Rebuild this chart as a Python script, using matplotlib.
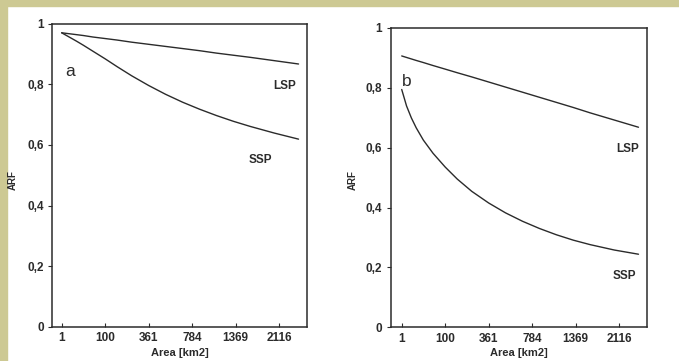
import numpy as np
import matplotlib
matplotlib.use("Agg")
import matplotlib.pyplot as plt
from matplotlib.patches import Rectangle

# Catchment area samples [km2] and areal reduction factors
area = [1, 4, 9, 16, 30, 56, 100, 156, 240, 361, 506, 676, 870, 1089,
        1332, 1600, 2025, 2500]

arf_a_lsp = [0.970, 0.968, 0.966, 0.964, 0.961, 0.956, 0.951, 0.946, 0.939,
             0.932, 0.925, 0.918, 0.911, 0.903, 0.896, 0.889, 0.878, 0.867]
arf_a_ssp = [0.970, 0.961, 0.952, 0.943, 0.929, 0.909, 0.884, 0.858, 0.828,
             0.796, 0.767, 0.741, 0.718, 0.697, 0.678, 0.661, 0.639, 0.619]

arf_b_lsp = [0.906, 0.901, 0.896, 0.891, 0.884, 0.874, 0.862, 0.850, 0.836,
             0.819, 0.802, 0.785, 0.768, 0.751, 0.734, 0.716, 0.692, 0.668]
arf_b_ssp = [0.794, 0.739, 0.699, 0.666, 0.625, 0.581, 0.535, 0.495, 0.454,
             0.415, 0.382, 0.354, 0.330, 0.309, 0.291, 0.276, 0.258, 0.244]

xtick_vals = [1, 100, 361, 784, 1369, 2116]
xtick_labels = ["1", "100", "361", "784", "1369", "2116"]
ytick_vals = [0, 0.2, 0.4, 0.6, 0.8, 1.0]
ytick_labels = ["0", "0,2", "0,4", "0,6", "0,8", "1"]

INK = "#2b2b2b"
FONT = "Liberation Sans"


# square-root area axis (signed, so the axis may start slightly left of 0)
def fwd(x):
    x = np.asarray(x, dtype=float)
    return np.sign(x) * np.sqrt(np.abs(x))


def inv(s):
    s = np.asarray(s, dtype=float)
    return np.sign(s) * s * s


fig = plt.figure(figsize=(6.79, 3.61), dpi=100)
fig.patch.set_facecolor("white")

# beige frame strips along the top and left edges
fig.add_artist(Rectangle((0, 1 - 6 / 361), 1, 6 / 361, transform=fig.transFigure,
                         color="#cdc993", zorder=0))
fig.add_artist(Rectangle((0, 0), 6.5 / 679, 1, transform=fig.transFigure,
                         color="#cdc993", zorder=0))

panels = [
    dict(rect=[52 / 679, 34.3 / 361, 255 / 679, 303 / 361], xlim=(-1.0, 51.75),
         lsp=arf_a_lsp, ssp=arf_a_ssp, tag="a", tag_xy=(2.7, 0.827),
         lsp_xy=(47.2, 0.784), ssp_xy=(42.1, 0.540), ylab_x=13 / 679),
    dict(rect=[390.7 / 679, 33.7 / 361, 256 / 679, 299.5 / 361], xlim=(-1.28, 51.7),
         lsp=arf_b_lsp, ssp=arf_b_ssp, tag="b", tag_xy=(2.05, 0.806),
         lsp_xy=(47.7, 0.586), ssp_xy=(47.0, 0.160), ylab_x=353 / 679),
]

for p in panels:
    ax = fig.add_axes(p["rect"])
    ax.set_xscale("function", functions=(fwd, inv))
    ax.plot(area, p["lsp"], color=INK, lw=1.0, solid_capstyle="round",
            solid_joinstyle="round")
    ax.plot(area, p["ssp"], color=INK, lw=1.0, solid_capstyle="round",
            solid_joinstyle="round")
    ax.set_xlim(float(inv(p["xlim"][0])), float(inv(p["xlim"][1])))
    ax.set_ylim(0, 1)
    ax.set_xticks(xtick_vals)
    ax.set_xticklabels(xtick_labels)
    ax.set_yticks(ytick_vals)
    ax.set_yticklabels(ytick_labels)
    ax.minorticks_off()
    for lab in ax.get_xticklabels() + ax.get_yticklabels():
        lab.set_fontfamily(FONT)
        lab.set_fontweight("bold")
        lab.set_fontsize(8.5)
        lab.set_color(INK)
    ax.tick_params(axis="x", direction="in", length=3, width=0.8, colors=INK, pad=4)
    ax.tick_params(axis="y", direction="out", length=3, width=0.8, colors=INK, pad=3)
    for sp in ax.spines.values():
        sp.set_color(INK)
        sp.set_linewidth(1.1)

    ax.text(float(inv(p["tag_xy"][0])), p["tag_xy"][1], p["tag"], fontsize=12.5,
            family=FONT, color=INK, ha="center", va="baseline")
    ax.text(float(inv(p["lsp_xy"][0])), p["lsp_xy"][1], "LSP", fontsize=8.5,
            family=FONT, weight="bold", color=INK, ha="center", va="baseline")
    ax.text(float(inv(p["ssp_xy"][0])), p["ssp_xy"][1], "SSP", fontsize=8.5,
            family=FONT, weight="bold", color=INK, ha="center", va="baseline")
    ax.set_xlabel("Area [km2]", fontsize=8, family=FONT, weight="bold",
                  color=INK, labelpad=2.5)
    fig.text(p["ylab_x"], 0.50, "ARF", rotation=90, fontsize=7, family=FONT,
             weight="bold", color=INK, ha="center", va="center")

fig.savefig("out.png", dpi=100, facecolor=fig.get_facecolor())
